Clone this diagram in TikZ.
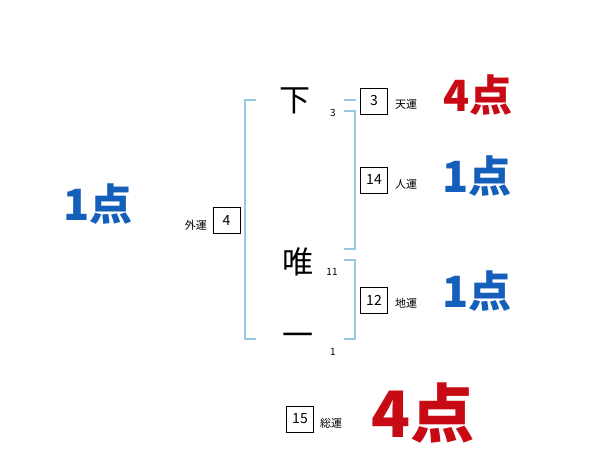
\documentclass[tikz,border=0pt]{standalone}
\usepackage{fontspec}
\newfontfamily\jp{Noto Sans CJK JP}
\definecolor{brk}{RGB}{150,200,228}
\definecolor{scred}{RGB}{200,10,20}
\definecolor{scblue}{RGB}{20,95,185}
\begin{document}
\begin{tikzpicture}[x=1pt,y=-1pt,
  kanji/.style={font=\jp\fontsize{31}{31}\selectfont,inner sep=0pt},
  strokes/.style={font=\jp\fontsize{10}{10}\selectfont,inner sep=0pt},
  numbox/.style={draw,line width=0.6pt,minimum width=27pt,minimum height=26pt,inner sep=0pt,font=\jp\fontsize{14}{14}\selectfont},
  lab/.style={font=\jp\fontsize{11}{11}\selectfont,inner sep=0pt,anchor=west},
  score/.style={font=\jp\bfseries\fontsize{43}{43}\selectfont,inner sep=0pt},
  bigscore/.style={font=\jp\bfseries\fontsize{64}{64}\selectfont,inner sep=0pt},
  bline/.style={draw=brk,line width=1.5pt}]
\useasboundingbox (0,0) rectangle (600,470);
% characters
\node[kanji] (c1) at (295,101) {下};
\node[kanji] (c2) at (298,262) {唯};
\node[kanji] (c3) at (298,340) {一};
\node[strokes] (s1) at (333,113) {3};
\node[strokes] (s2) at (332,272) {11};
\node[strokes] (s3) at (333,352) {1};
% brackets
\draw[bline] (256,100) -- (245,100) -- (245,339) -- (256,339);
\draw[bline] (344,100) -- (356,100);
\draw[bline] (344,111) -- (355,111) -- (355,249) -- (344,249);
\draw[bline] (344,260) -- (355,260) -- (355,339) -- (344,339);
% boxes and labels
\node[numbox] (b4) at (226.5,220.5) {4};
\node[lab,anchor=east] (l4) at (207,225) {外運};
\node[numbox] (b3) at (374,101) {3};
\node[lab] (l3) at (395,104) {天運};
\node[numbox] (b14) at (374,180) {14};
\node[lab] (l14) at (395,184) {人運};
\node[numbox] (b12) at (374,300) {12};
\node[lab] (l12) at (395,303) {地運};
\node[numbox] (b15) at (300,419) {15};
\node[lab] (l15) at (320,423) {総運};
% scores
\node[score,text=scred] (p1) at (478,95) {4点};
\node[score,text=scblue] (p2) at (477,176) {1点};
\node[score,text=scblue] (p3) at (477,291) {1点};
\node[score,text=scblue] (p4) at (98,204) {1点};
\node[bigscore,text=scred] (p5) at (423,413) {4点};
\end{tikzpicture}
\end{document}
